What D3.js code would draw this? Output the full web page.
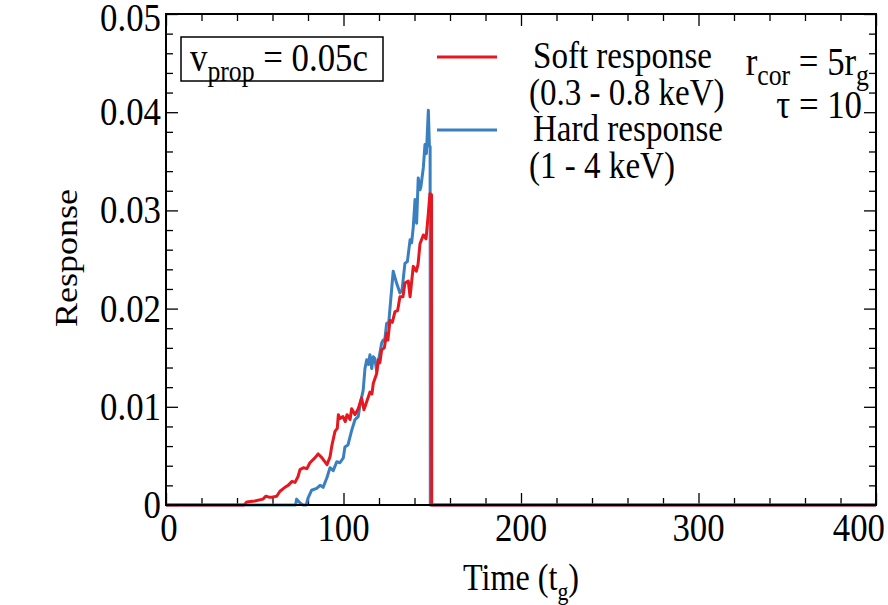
<!DOCTYPE html>
<html><head><meta charset="utf-8">
<script src="https://cdn.jsdelivr.net/npm/d3@7"></script>
<style>html,body{margin:0;padding:0;background:#fff;} svg{display:block;}</style>
</head><body>
<svg id="c" width="888" height="605"></svg>
<script>
// ---- data ----
const softTime = [0,44,45.5,50,54.6,56.3,58,59.7,62.4,64.2,67,68.8,71,72.7,74.4,75.5,77.4,79.4,81.1,83.9,85.7,87.9,90.7,92.4,93.5,95.2,96.5,97.1,98,99.7,101,102,103.7,104.6,106.5,108.3,110.2,111.5,112.5,114.9,116,116.8,118.7,119.6,120.5,121.5,123,124.3,125,126.2,127.5,129,130.5,131.8,133.5,134.6,136.5,137.5,139.3,141,142,143.1,145,146.5,147.8,148.7,149.6,149.7,400];
const softResp = [0,0,0.0003,0.0004,0.0006,0.0009,0.0008,0.0008,0.0009,0.0014,0.0018,0.0020,0.0024,0.0023,0.0029,0.0036,0.0038,0.0037,0.0043,0.0048,0.0052,0.0048,0.0041,0.0049,0.0061,0.0075,0.0078,0.0092,0.0088,0.0090,0.0085,0.0092,0.0087,0.0098,0.0092,0.0098,0.0109,0.0097,0.0102,0.0115,0.0113,0.0124,0.0134,0.0148,0.0145,0.0158,0.0160,0.0175,0.0168,0.0188,0.0186,0.0197,0.0198,0.0212,0.0212,0.0226,0.0228,0.0212,0.0243,0.0238,0.0245,0.0266,0.0275,0.0271,0.0297,0.0317,0.0316,0,0];
const hardTime = [0,73,73.6,75.5,77.2,79,80,82,84.9,86.8,88.5,90.7,92.4,94.2,96.2,98,99.9,100.8,102.5,104.6,106.5,108.3,109.3,111.1,112.1,113.1,114,114.9,115.9,116.8,117.7,118.7,120,121.5,122.4,123.2,124.3,125.5,128,129.9,131.8,133,134.6,136,137.5,138.4,139.3,140.3,141.2,142.1,143.1,143.6,145,145.9,146.7,147.8,148.4,148.8,148.9,400];
const hardResp = [0,0,0.0006,0.0002,0,0,0.0007,0.0015,0.0017,0.0020,0.0018,0.0028,0.0038,0.0035,0.0044,0.0043,0.0048,0.0059,0.0061,0.0076,0.0087,0.0090,0.0102,0.0117,0.0139,0.0148,0.0143,0.0153,0.0139,0.0151,0.0149,0.0136,0.0150,0.0165,0.0168,0.0167,0.0185,0.0186,0.0238,0.0226,0.0216,0.0219,0.0246,0.0248,0.0270,0.0267,0.0283,0.0311,0.0287,0.0333,0.0321,0.0324,0.0344,0.0367,0.0358,0.0402,0.0365,0.0365,0,0];
const xTicks = [0,100,200,300,400];
const xTickLabels = ["0","100","200","300","400"];
const yTicks = [0,0.01,0.02,0.03,0.04,0.05];
const yTickLabels = ["0","0.01","0.02","0.03","0.04","0.05"];
const seriesNames = ["Soft response","Hard response"];
const seriesRanges = ["(0.3 - 0.8 keV)","(1 - 4 keV)"];
const colors = ["#e5171f","#3a7fc0"];

// ---- layout ----
const svg = d3.select("#c");
const L = 166, R = 876, T = 14, B = 505;
const x = d3.scaleLinear().domain([0,400]).range([L,R]);
const y = d3.scaleLinear().domain([0,0.05]).range([B,T]);
const SX = 0.87;

function label(xp, yp, size, anchor, parts, rot, subRatio) {
  const sr = subRatio || 0.68;
  const t = svg.append("text")
    .attr("transform", `translate(${xp},${yp})` + (rot ? ` rotate(${rot}) scale(1,${SX})` : ` scale(${SX},1)`))
    .attr("font-family", "Liberation Serif")
    .attr("font-size", size).attr("text-anchor", anchor).attr("fill", "#000");
  let shifted = 0;
  parts.forEach(p => {
    const sp = t.append("tspan").attr("font-family", "Liberation Serif").text(p.t);
    if (p.sub) { sp.attr("font-size", size*sr).attr("dy", size*0.26 - shifted); shifted = size*0.26; }
    else { if (shifted) sp.attr("dy", -shifted); shifted = 0; }
  });
  return t;
}

// minor ticks
const xMinor = d3.range(0,401,20).filter(v => v % 100 !== 0);
const yMinor = d3.range(0,51,2).map(v => v/1000).filter((v,i) => i % 5 !== 0);

const axB = svg.append("g").attr("transform",`translate(0,${B})`);
axB.call(d3.axisBottom(x).tickValues(xTicks).tickSize(-12).tickFormat(""));
axB.append("g").call(d3.axisBottom(x).tickValues(xMinor).tickSize(-7).tickFormat(""));
const axT = svg.append("g").attr("transform",`translate(0,${T})`);
axT.call(d3.axisTop(x).tickValues(xTicks).tickSize(-12).tickFormat(""));
axT.append("g").call(d3.axisTop(x).tickValues(xMinor).tickSize(-7).tickFormat(""));
const axL = svg.append("g").attr("transform",`translate(${L},0)`);
axL.call(d3.axisLeft(y).tickValues(yTicks).tickSize(-12).tickFormat(""));
axL.append("g").call(d3.axisLeft(y).tickValues(yMinor).tickSize(-7).tickFormat(""));
const axR = svg.append("g").attr("transform",`translate(${R},0)`);
axR.call(d3.axisRight(y).tickValues(yTicks).tickSize(-12).tickFormat(""));
axR.append("g").call(d3.axisRight(y).tickValues(yMinor).tickSize(-7).tickFormat(""));
svg.selectAll(".domain").remove();
svg.selectAll(".tick line").attr("stroke","#000").attr("stroke-width",1.3);
svg.selectAll(".tick text").remove();

// curves
const line = d3.line().x(d => x(d[0])).y(d => y(d[1]));
const hard = hardTime.map((t,i) => [t, hardResp[i]]);
const soft = softTime.map((t,i) => [t, softResp[i]]);
svg.append("path").datum(hard).attr("d", line).attr("fill","none").attr("stroke",colors[1]).attr("stroke-width",3).attr("stroke-linejoin","round");
svg.append("path").datum(soft).attr("d", line).attr("fill","none").attr("stroke",colors[0]).attr("stroke-width",3).attr("stroke-linejoin","round");

// frame
svg.append("rect").attr("x",L).attr("y",T).attr("width",R-L).attr("height",B-T)
  .attr("fill","none").attr("stroke","#000").attr("stroke-width",2);

// tick labels
xTicks.forEach((v,i) => {
  if (i === xTicks.length-1) label(885, 541, 40, "end", [{t:xTickLabels[i]}]);
  else label(x(v)+(i===0?3:0), 541, 40, "middle", [{t:xTickLabels[i]}]);
});
yTicks.forEach((v,i) => label(161, Math.max(y(v)+13, 31), 40, "end", [{t:yTickLabels[i]}]));

// axis titles
label(521, 590, 37, "middle", [{t:"Time (t"},{t:"g",sub:true},{t:")"}]);
label(77, 258, 36, "middle", [{t:"Response"}], -90);

// v_prop box
svg.append("rect").attr("x",181).attr("y",37).attr("width",202).attr("height",44)
  .attr("fill","#fff").attr("stroke","#000").attr("stroke-width",1.5);
label(190, 71, 40, "start", [{t:"v"},{t:"prop",sub:true},{t:" = 0.05c"}], 0, 0.74);

// legend
const legY = [57, 130];
[0,1].forEach(i => {
  svg.append("line").attr("x1",437).attr("x2",497).attr("y1",legY[i]).attr("y2",legY[i])
    .attr("stroke",colors[i]).attr("stroke-width",3);
  label(533, legY[i]+11, 38, "start", [{t:seriesNames[i]}]);
  label(529, legY[i]+48, 38, "start", [{t:seriesRanges[i]}]);
});

// parameters
label(869, 75, 40, "end", [{t:"r"},{t:"cor",sub:true},{t:" = 5r"},{t:"g",sub:true}], 0, 0.74);
label(862, 118, 40, "end", [{t:"τ = 10"}]);
</script>
</body></html>
